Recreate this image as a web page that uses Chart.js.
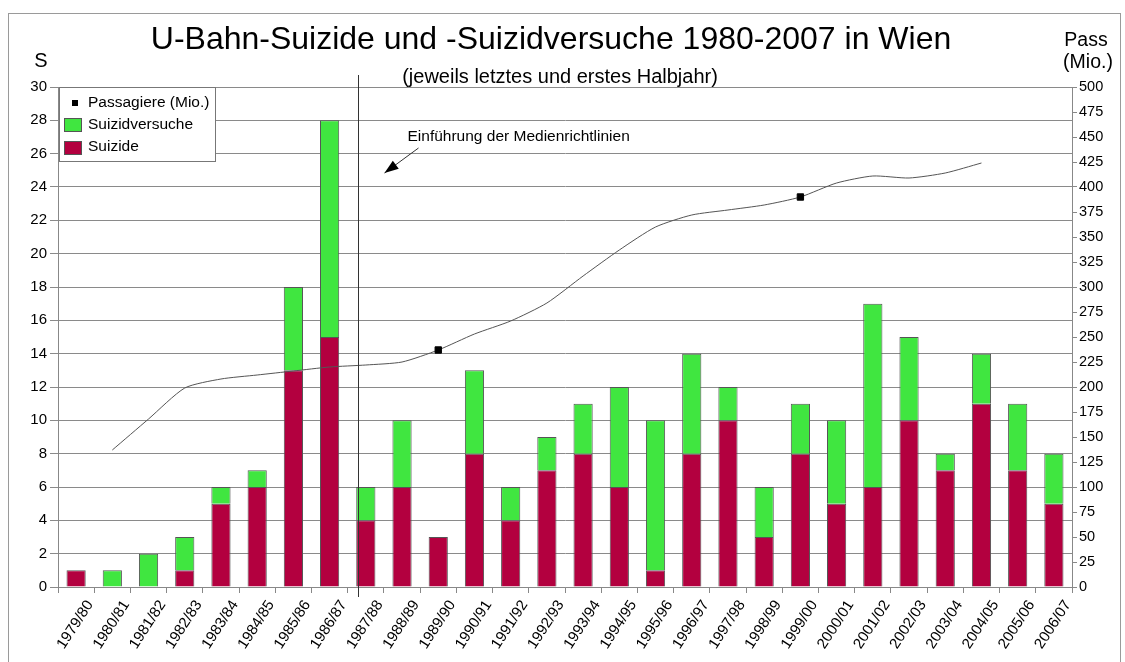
<!DOCTYPE html>
<html><head><meta charset="utf-8">
<script src="https://cdn.jsdelivr.net/npm/chart.js@4.4.1/dist/chart.umd.min.js"></script>
<style>html,body{margin:0;padding:0;background:#fff}#wrap{width:1125px;height:662px;position:relative}</style>
</head><body><div id="wrap"><canvas id="c" width="1125" height="662"></canvas></div>
<script>
const categories = ['1979/80','1980/81','1981/82','1982/83','1983/84','1984/85','1985/86','1986/87','1987/88','1988/89','1989/90','1990/91','1991/92','1992/93','1993/94','1994/95','1995/96','1996/97','1997/98','1998/99','1999/00','2000/01','2001/02','2002/03','2003/04','2004/05','2005/06','2006/07'];
const suizide        = [1,0,0,1,5,6,13,15,4,6,3,8,4,7,8,6,1,8,10,3,8,5,6,10,7,11,7,5];
const suizidversuche = [0,1,2,2,1,1,5,13,2,4,0,5,2,2,3,6,9,6,2,3,3,5,11,5,1,3,4,3];
const passagiere     = [null,137,168,199,208,212,216,220,222,225,237,253,266,284,311,337,360,372,377,382,390,404,411,409,414,424,null,null];
const markerIndexes  = [10,20];
const leftAxis  = {min:0, max:30, step:2};
const rightAxis = {min:0, max:500, step:25};
const mediaLinePos = 7.78;

const FONT = '"Liberation Sans", Arial, sans-serif';
const CRIMSON = '#B3003F', GREEN = '#40E640';

const decor = {
  id:'decor',
  beforeDraw(chart){
    const ctx = chart.ctx;
    ctx.save();
    ctx.fillStyle = '#fff'; ctx.fillRect(0,0,chart.width,chart.height);
    ctx.strokeStyle = '#9a9a9a'; ctx.lineWidth = 1;
    ctx.strokeRect(8.5, 13.5, 1112, 700);
    ctx.restore();
  },
  afterDraw(chart){
    const ctx = chart.ctx, ca = chart.chartArea, xs = chart.scales.x;
    ctx.save();
    // titles
    ctx.fillStyle = '#000';
    ctx.textAlign = 'center'; ctx.textBaseline = 'middle';
    ctx.font = '32px ' + FONT;
    ctx.fillText('U-Bahn-Suizide und -Suizidversuche 1980-2007 in Wien', 551, 40);
    ctx.font = '20px ' + FONT;
    ctx.fillText('(jeweils letztes und erstes Halbjahr)', 560, 77);
    ctx.font = '20px ' + FONT;
    ctx.fillText('S', 41, 61);
    ctx.font = '19.5px ' + FONT;
    ctx.fillText('Pass', 1086, 41);
    ctx.fillText('(Mio.)', 1088, 63);
    // x tick labels (rotated)
    ctx.font = '15px ' + FONT;
    ctx.textAlign = 'right'; ctx.textBaseline = 'middle';
    const rot = -57 * Math.PI / 180;
    categories.forEach((lab, i) => {
      const x = xs.getPixelForValue(i);
      ctx.save();
      ctx.translate(x + 14, ca.bottom + 15);
      ctx.rotate(rot);
      ctx.fillText(lab, 0, 0);
      ctx.restore();
    });
    // vertical line (media guideline introduction)
    const vx = Math.round(xs.getPixelForValue(mediaLinePos)) + 0.5;
    ctx.strokeStyle = '#333'; ctx.lineWidth = 1;
    ctx.beginPath(); ctx.moveTo(vx, 75); ctx.lineTo(vx, ca.bottom + 10); ctx.stroke();
    // annotation
    ctx.font = '15.5px ' + FONT; ctx.textAlign = 'left'; ctx.textBaseline = 'middle';
    ctx.fillText('Einführung der Medienrichtlinien', vx + 49, 137);
    const x1 = vx + 60, y1 = 148, x2 = vx + 26, y2 = 173;
    ctx.beginPath(); ctx.moveTo(x1, y1); ctx.lineTo(x2, y2); ctx.stroke();
    const ang = Math.atan2(y2 - y1, x2 - x1), L = 14, W = 5;
    ctx.fillStyle = '#000';
    ctx.beginPath();
    ctx.moveTo(x2, y2);
    ctx.lineTo(x2 - L*Math.cos(ang) + W*Math.sin(ang), y2 - L*Math.sin(ang) - W*Math.cos(ang));
    ctx.lineTo(x2 - L*Math.cos(ang) - W*Math.sin(ang), y2 - L*Math.sin(ang) + W*Math.cos(ang));
    ctx.closePath(); ctx.fill();
    // legend
    const lx = ca.left + 1, ly = ca.top;
    ctx.fillStyle = '#fff';
    ctx.fillRect(lx, ly, 156, 74);
    ctx.strokeStyle = '#777';
    ctx.strokeRect(lx + 0.5, ly + 0.5, 156, 74);
    ctx.fillStyle = '#000';
    ctx.fillRect(lx + 13, ly + 13, 6, 6);
    ctx.fillStyle = GREEN; ctx.fillRect(lx + 5, ly + 31, 18, 14);
    ctx.strokeStyle = '#555'; ctx.strokeRect(lx + 5.5, ly + 31.5, 17, 13);
    ctx.fillStyle = CRIMSON; ctx.fillRect(lx + 5, ly + 54, 18, 14);
    ctx.strokeRect(lx + 5.5, ly + 54.5, 17, 13);
    ctx.fillStyle = '#000'; ctx.font = '15.5px ' + FONT; ctx.textBaseline = 'middle';
    ctx.fillText('Passagiere (Mio.)', lx + 29, ly + 16);
    ctx.fillText('Suizidversuche', lx + 29, ly + 38);
    ctx.fillText('Suizide', lx + 29, ly + 60);
    ctx.restore();
  }
};

new Chart(document.getElementById('c'), {
  data: {
    labels: categories,
    datasets: [
      {type:'line', label:'Passagiere (Mio.)', data: passagiere, yAxisID:'y2', order:0,
       borderColor:'#555', borderWidth:1, tension:0.22, fill:false,
       pointStyle:'rect', backgroundColor:'#000', pointBorderColor:'#000',
       pointRadius: passagiere.map((v,i)=> markerIndexes.includes(i) ? 4.5 : 0)},
      {type:'bar', label:'Suizide', data: suizide, yAxisID:'y', order:1, stack:'s',
       backgroundColor: CRIMSON, borderColor:'#555', borderWidth:1,
       categoryPercentage:1, barPercentage:0.53},
      {type:'bar', label:'Suizidversuche', data: suizidversuche, yAxisID:'y', order:1, stack:'s',
       backgroundColor: GREEN, borderColor:'#555', borderWidth:1,
       categoryPercentage:1, barPercentage:0.53}
    ]
  },
  options: {
    responsive:false, animation:false, devicePixelRatio:1,
    layout:{padding:{left:0, right:0, top:87, bottom:0}},
    plugins:{legend:{display:false}, tooltip:{enabled:false}, title:{display:false}},
    scales:{
      x:{stacked:true, offset:true,
         grid:{offset:true, drawOnChartArea:false, color:'#888', tickLength:6},
         border:{color:'#888'},
         ticks:{autoSkip:false, maxRotation:0, minRotation:0, color:'rgba(0,0,0,0)', font:{family:FONT, size:13}},
         afterFit(s){ s.height = 75; }},
      y:{stacked:true, position:'left', min:leftAxis.min, max:leftAxis.max,
         ticks:{stepSize:leftAxis.step, color:'#000', font:{family:FONT, size:15}, padding:3},
         grid:{color:'#8a8a8a', tickLength:8},
         border:{color:'#888'},
         afterFit(s){ s.width = 58; }},
      y2:{position:'right', min:rightAxis.min, max:rightAxis.max,
         ticks:{stepSize:rightAxis.step, color:'#000', font:{family:FONT, size:14.5}, padding:2},
         grid:{drawOnChartArea:false, color:'#888', tickLength:5},
         border:{color:'#888'},
         afterFit(s){ s.width = 53; }}
    }
  },
  plugins:[decor]
});
</script></body></html>
